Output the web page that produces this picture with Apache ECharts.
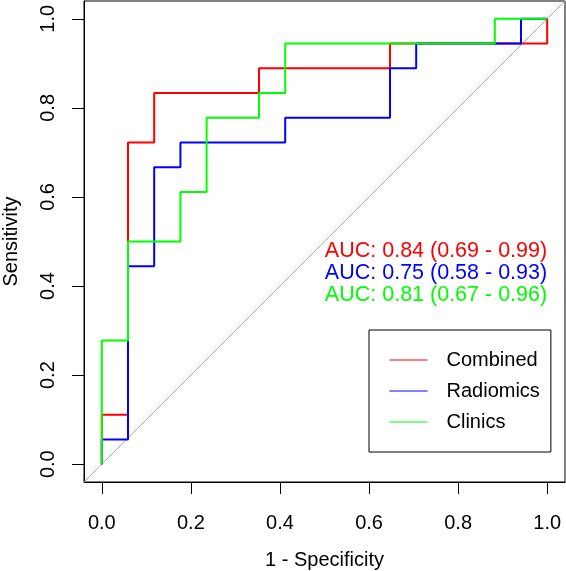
<!DOCTYPE html>
<html>
<head>
<meta charset="utf-8">
<script src="https://cdn.jsdelivr.net/npm/echarts@6/dist/echarts.min.js"></script>
<style>html,body{margin:0;padding:0;background:#fff}#c{width:566px;height:571px}</style>
</head>
<body>
<div id="c"></div>
<script>
// ROC curve vertices (1 - specificity, sensitivity)
const seriesNames = ['Combined', 'Radiomics', 'Clinics'];
const seriesColors = ['#ff0000', '#0000ff', '#00ff00'];

const combinedFpr = [0, 0, 0.0588, 0.0588, 0.1176, 0.1176, 0.3529, 0.3529, 0.6471, 0.6471, 1, 1];
const combinedTpr = [0, 0.1111, 0.1111, 0.7222, 0.7222, 0.8333, 0.8333, 0.8889, 0.8889, 0.9444, 0.9444, 1];

const radiomicsFpr = [0, 0, 0.0588, 0.0588, 0.1176, 0.1176, 0.1765, 0.1765, 0.4118, 0.4118, 0.6471, 0.6471, 0.7059, 0.7059, 0.9412, 0.9412, 1];
const radiomicsTpr = [0, 0.0556, 0.0556, 0.4444, 0.4444, 0.6667, 0.6667, 0.7222, 0.7222, 0.7778, 0.7778, 0.8889, 0.8889, 0.9444, 0.9444, 1, 1];

const clinicsFpr = [0, 0, 0.0588, 0.0588, 0.1765, 0.1765, 0.2353, 0.2353, 0.3529, 0.3529, 0.4118, 0.4118, 0.8824, 0.8824, 1];
const clinicsTpr = [0, 0.2778, 0.2778, 0.5, 0.5, 0.6111, 0.6111, 0.7778, 0.7778, 0.8333, 0.8333, 0.9444, 0.9444, 1, 1];

const diagonalX = [-0.04, 1.04];
const diagonalY = [-0.04, 1.04];

const tickValues = [0, 0.2, 0.4, 0.6, 0.8, 1.0];
const aucLabels = ['AUC: 0.84 (0.69 - 0.99)', 'AUC: 0.75 (0.58 - 0.93)', 'AUC: 0.81 (0.67 - 0.96)'];

const FONT = '"Liberation Sans", Arial, sans-serif';
const zip = (xs, ys) => xs.map((x, i) => [x, ys[i]]);
const curves = [zip(combinedFpr, combinedTpr), zip(radiomicsFpr, radiomicsTpr), zip(clinicsFpr, clinicsTpr)];

const chart = echarts.init(document.getElementById('c'), null, {renderer: 'canvas'});

const axisCommon = {
  type: 'value', min: -0.04, max: 1.04,
  axisLine: {show: true, onZero: false, lineStyle: {color: '#000', width: 1}},
  axisTick: {show: true, inside: false, length: 12, customValues: tickValues, lineStyle: {color: '#000', width: 1}},
  axisLabel: {customValues: tickValues, color: '#000', fontSize: 20, fontFamily: FONT, formatter: v => v.toFixed(1)},
  splitLine: {show: false},
  nameLocation: 'middle',
  nameTextStyle: {color: '#000', fontSize: 20, fontFamily: FONT}
};

const series = [{
  type: 'line', silent: true, data: zip(diagonalX, diagonalY), symbol: 'none',
  lineStyle: {color: '#b0b0b0', width: 1}, z: 1
}];
curves.forEach((c, i) => series.push({
  name: seriesNames[i], type: 'line', data: c, symbol: 'none', showSymbol: false,
  lineStyle: {color: seriesColors[i], width: 2}, itemStyle: {color: seriesColors[i]}, z: 2 + i
}));

const graphics = aucLabels.map((t, i) => ({
  type: 'text', x: 436, y: 251 + i * 22.2,
  style: {text: t, fill: seriesColors[i], font: '21.5px ' + FONT, textAlign: 'center', textVerticalAlign: 'middle'}
}));

chart.setOption({
  animation: false,
  backgroundColor: '#fff',
  grid: {left: 84, top: 1, right: 1, bottom: 89, show: true, borderColor: '#000', borderWidth: 1,
    containLabel: false, outerBoundsMode: 'none'},
  xAxis: Object.assign({}, axisCommon, {name: '1 - Specificity', nameGap: 68,
    axisLabel: Object.assign({}, axisCommon.axisLabel, {margin: 31})}),
  yAxis: Object.assign({}, axisCommon, {name: 'Sensitivity', nameGap: 63,
    axisLabel: Object.assign({}, axisCommon.axisLabel, {margin: 26, rotate: 90})}),
  legend: {
    show: true,
    data: seriesNames, orient: 'vertical', left: 369, top: 330,
    padding: [20, 11, 20, 20], itemGap: 11, itemWidth: 38, itemHeight: 20,
    borderColor: '#000', borderWidth: 1, borderRadius: 0, backgroundColor: '#fff',
    selectedMode: false,
    lineStyle: {width: 1},
    itemStyle: {opacity: 0},
    textStyle: {color: '#000', fontSize: 20, fontFamily: FONT, lineHeight: 20, padding: [0, 0, 0, 14]}
  },
  graphic: graphics,
  series: series
});
</script>
</body>
</html>
